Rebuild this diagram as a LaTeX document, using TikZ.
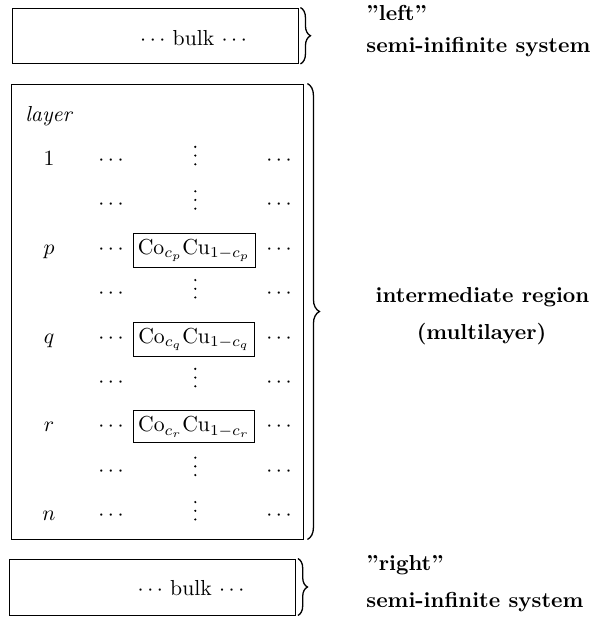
\documentclass[tikz,border=0pt]{standalone}
\usetikzlibrary{decorations.pathreplacing}
\begin{document}
\begin{tikzpicture}[x=1pt,y=-1pt,
  lbl/.style={scale=2.17, anchor=base, inner sep=0pt},
  lblw/.style={lbl, anchor=base west},
  frame/.style={draw, line width=0.9pt, inner sep=0pt},
  cobox/.style={lbl, draw, line width=0.9pt, inner xsep=2.2pt, inner ysep=2.6pt},
  brc/.style={decorate, decoration={brace, amplitude=#1}, line width=1.3pt},
  vdot/.style={circle, fill, inner sep=0pt, minimum size=2.4pt},
]
\useasboundingbox (0,0) rectangle (595,627);

% boxes
\node[frame, minimum width=285.5pt, minimum height=55.5pt] (topbox) at (155.25,35.75) {};
\node[frame, minimum width=292pt, minimum height=455pt] (midbox) at (157,311.5) {};
\node[frame, minimum width=285.5pt, minimum height=56pt] (botbox) at (152.25,587) {};

% braces
\draw[brc=10pt] ([xshift=2pt]topbox.north east) -- ([xshift=2pt]topbox.south east);
\draw[brc=12pt] ([xshift=4pt]midbox.north east) -- ([xshift=4pt]midbox.south east);
\draw[brc=9.5pt] ([xshift=2.5pt]botbox.north east) -- ([xshift=2.5pt]botbox.south east);

% bulk texts
\node[lbl] (bulktop) at (193.5,45) {$\cdots$ bulk $\cdots$};
\node[lbl] (bulkbot) at (191,595) {$\cdots$ bulk $\cdots$};

% layer header
\node[lblw] (layer) at (25,121) {\textit{layer}};

% rows
\foreach \k/\lab in {0/1,1/,2/p,3/,4/q,5/,6/r,7/,8/n}{
  \pgfmathsetmacro{\yb}{165.4+44.4*\k}
  \node[lbl] (rowlab\k) at (49,\yb) {$\lab$};
  \node[lbl] (ldots\k) at (111,\yb) {$\cdots$};
  \node[lbl] (rdots\k) at (279,\yb) {$\cdots$};
}
% vertical dots
\foreach \k in {0,1,3,5,7,8}{
  \foreach \j in {0,1,2}{
    \pgfmathsetmacro{\yd}{165.4+44.4*\k-1.15-8.68*\j}
    \node[vdot] (vd\k-\j) at (195.3,\yd) {};
  }
}
\node[cobox] (cop) at (194,254.2) {Co$_{c_p}$Cu$_{1-c_p}$};
\node[cobox] (coq) at (194,343.0) {Co$_{c_q}$Cu$_{1-c_q}$};
\node[cobox] (cor) at (194,431.8) {Co$_{c_r}$Cu$_{1-c_r}$};

% right-hand texts
\node[lblw] (lefttxt) at (366,20) {\textbf{''left''}};
\node[lblw] (semitop) at (366,52) {\textbf{semi-inifinite system}};
\node[lbl] (inter) at (482.5,302) {\textbf{intermediate region}};
\node[lbl] (multi) at (481.5,339) {\textbf{(multilayer)}};
\node[lblw] (righttxt) at (366,570) {\textbf{''right''}};
\node[lblw] (semibot) at (366,607) {\textbf{semi-infinite system}};
\end{tikzpicture}
\end{document}
